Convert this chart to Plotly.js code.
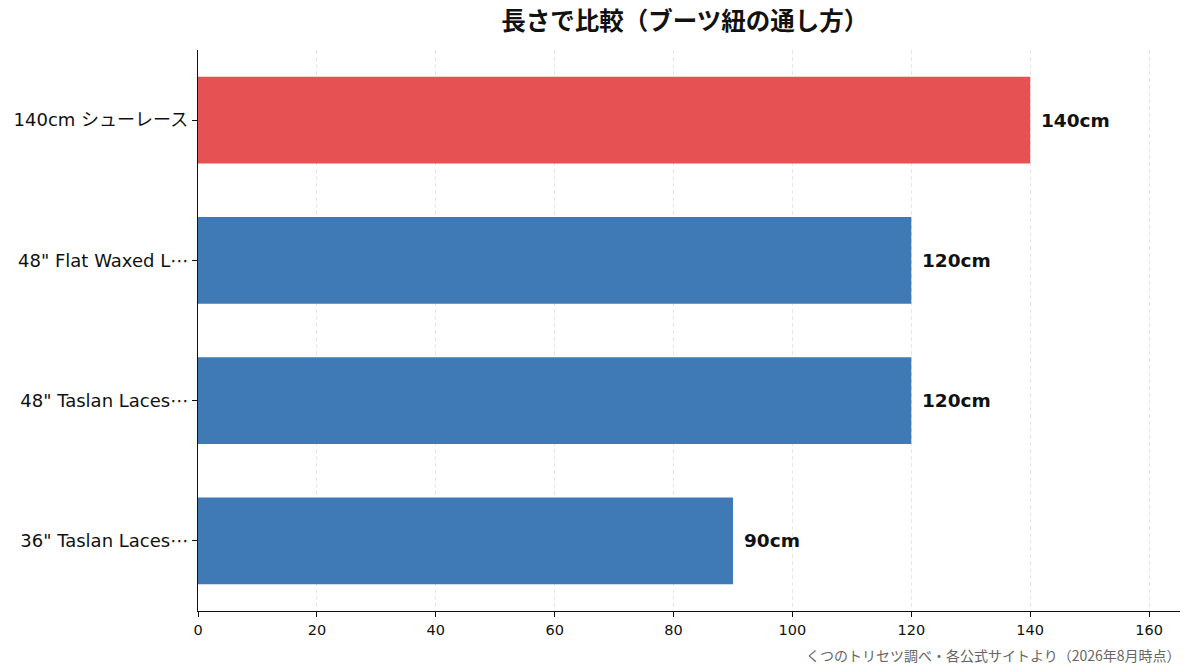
<!DOCTYPE html>
<html>
<head>
<meta charset="utf-8">
<script src="https://cdn.plot.ly/plotly-3.0.1.min.js"></script>
<style>
  html, body { margin: 0; padding: 0; background: #fff; }
  #graph { width: 1193px; height: 672px; }
</style>
</head>
<body>
<div id="graph"></div>
<script>
// data
var labels = ['140cm シューレース', '48" Flat Waxed L⋯', '48" Taslan Laces⋯', '36" Taslan Laces⋯'];
var lengths = [140, 120, 120, 90];
var valueText = ['140cm', '120cm', '120cm', '90cm'];
var highlight = [true, false, false, false];
var xTicks = [0, 20, 40, 60, 80, 100, 120, 140, 160];

var jp = '"Noto Sans CJK JP", "Noto Sans", sans-serif';
var latin = '"DejaVu Sans", "Noto Sans CJK JP", sans-serif';

var colors = highlight.map(function (h) { return h ? '#e65254' : '#3f7ab6'; });

var bars = {
    type: 'bar',
    orientation: 'h',
    x: lengths,
    y: labels,
    width: 0.62,
    marker: { color: colors, line: { width: 0 } },
    hoverinfo: 'x+y'
};

var notes = lengths.map(function (v, i) {
    return {
        x: v, y: labels[i], xref: 'x', yref: 'y',
        text: '<b>' + valueText[i] + '</b>',
        showarrow: false, xanchor: 'left', xshift: 9,
        font: { family: latin, size: 18.5, color: '#111' }
    };
});

notes.push({
    xref: 'paper', yref: 'paper', x: 1.003, y: -0.078,
    xanchor: 'right', yanchor: 'middle', showarrow: false,
    text: 'くつのトリセツ調べ・各公式サイトより（2026年8月時点）',
    font: { family: jp, size: 14, color: '#666' }
});

var layout = {
    width: 1193,
    height: 672,
    margin: { l: 198, r: 13, t: 50, b: 61 },
    paper_bgcolor: '#fff',
    plot_bgcolor: '#fff',
    font: { family: latin, color: '#111' },
    title: {
        text: '<b>長さで比較（ブーツ紐の通し方）</b>',
        font: { family: jp, size: 24.5, color: '#111' },
        x: 0.574, xanchor: 'center', y: 0.968, yanchor: 'middle'
    },
    xaxis: {
        range: [0, 165.2],
        tickvals: xTicks,
        ticks: 'outside', ticklen: 5, tickcolor: '#111',
        tickfont: { family: latin, size: 14.5, color: '#111' },
        showline: true, linecolor: '#111', linewidth: 1.2,
        showgrid: true, gridcolor: '#e6e6e6', griddash: '4px,3px', gridwidth: 1,
        zeroline: false
    },
    yaxis: {
        autorange: 'reversed',
        ticks: 'outside', ticklen: 5, tickcolor: '#111',
        tickfont: { family: latin, size: 18, color: '#111' },
        showline: true, linecolor: '#111', linewidth: 1.2,
        showgrid: false, zeroline: false
    },
    annotations: notes,
    showlegend: false,
    bargap: 0.38
};

Plotly.newPlot('graph', [bars], layout, { displayModeBar: false, staticPlot: true });
</script>
</body>
</html>
